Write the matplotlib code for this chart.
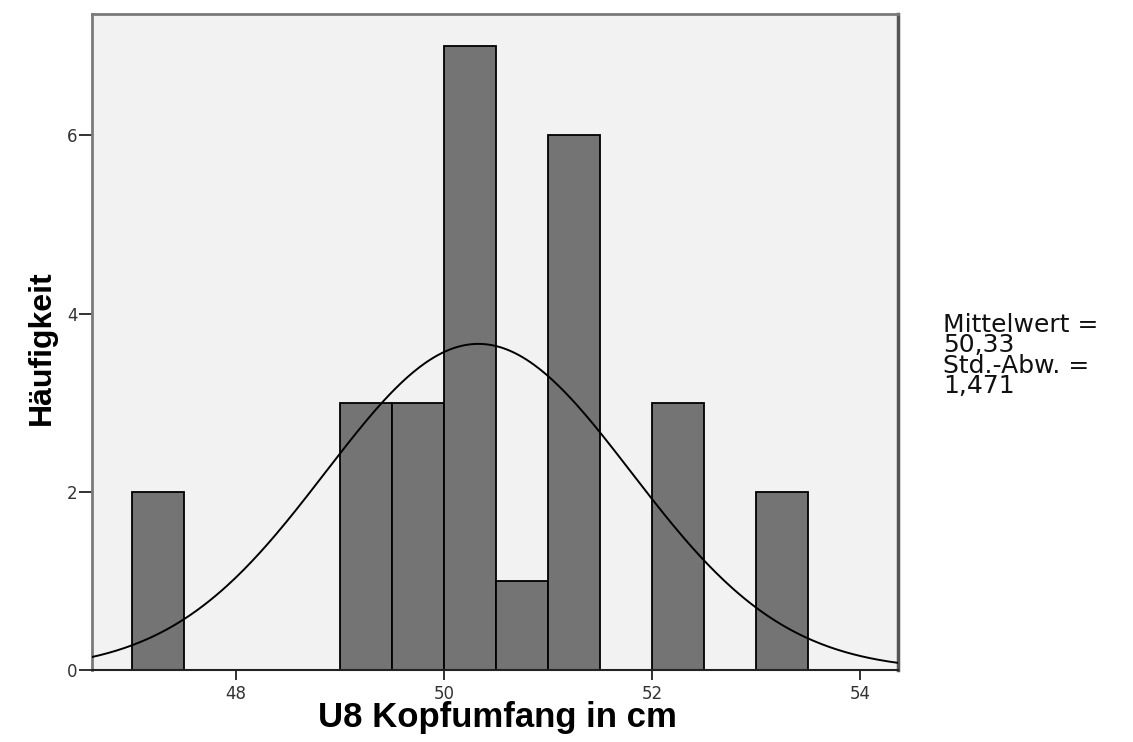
import numpy as np
import matplotlib
matplotlib.use("Agg")
import matplotlib.pyplot as plt

# histogram bins (left edges, width 0.5 cm) and frequencies
bin_left = [47.0, 49.0, 49.5, 50.0, 50.5, 51.0, 52.0, 53.0]
counts = [2, 3, 3, 7, 1, 6, 3, 2]
bin_width = 0.5

mean = 50.33
std = 1.471
n_total = sum(counts)

x_ticks = [48, 50, 52, 54]
y_ticks = [0, 2, 4, 6]
x_range = (46.615, 54.365)

fig = plt.figure(figsize=(11.33, 7.42), dpi=100)
ax = fig.add_axes([0.0812, 0.0964, 0.7114, 0.8848])
ax.set_facecolor("#f2f2f2")

ax.bar(bin_left, counts, width=bin_width, align="edge",
       color="#747474", edgecolor="black", linewidth=1.3, zorder=2)

# normal curve scaled to the counts
xs = np.linspace(x_range[0], x_range[1], 400)
pdf = np.exp(-0.5 * ((xs - mean) / std) ** 2) / (std * np.sqrt(2 * np.pi))
ax.plot(xs, pdf * n_total * bin_width, color="black", linewidth=1.4, zorder=3)

ax.set_xlim(*x_range)
ax.set_ylim(0, 7.36)
ax.set_xticks(x_ticks)
ax.set_yticks(y_ticks)
ax.tick_params(axis="x", direction="out", length=7.2, width=1.3, color="#222222",
               labelsize=12, labelcolor="#333333", pad=3)
ax.tick_params(axis="y", direction="out", length=9.4, width=1.3, color="#222222",
               labelsize=12, labelcolor="#333333", pad=1)

for name, s in ax.spines.items():
    s.set_color("#7a7a7a")
    s.set_linewidth(2)
ax.spines["bottom"].set_color("#222222")
ax.spines["bottom"].set_linewidth(1.5)
ax.spines["right"].set_color("#555555")
ax.spines["right"].set_linewidth(2.5)

ax.set_xlabel("U8 Kopfumfang in cm", fontsize=25, fontweight="bold",
              family=["Liberation Sans", "DejaVu Sans"])
ax.xaxis.set_label_coords(0.503, -0.047)
ax.xaxis.label.set_va("top")

ax.set_ylabel("Häufigkeit", fontsize=23, fontweight="bold",
              family=["Liberation Sans", "DejaVu Sans"])
ax.yaxis.set_label_coords(-0.0434, 0.491)

fig.text(0.8323, 0.578, "Mittelwert =\n50,33\nStd.-Abw. =\n1,471",
         fontsize=18, va="top", ha="left", linespacing=0.8, color="#111111")

fig.savefig("out.png", dpi=100)
